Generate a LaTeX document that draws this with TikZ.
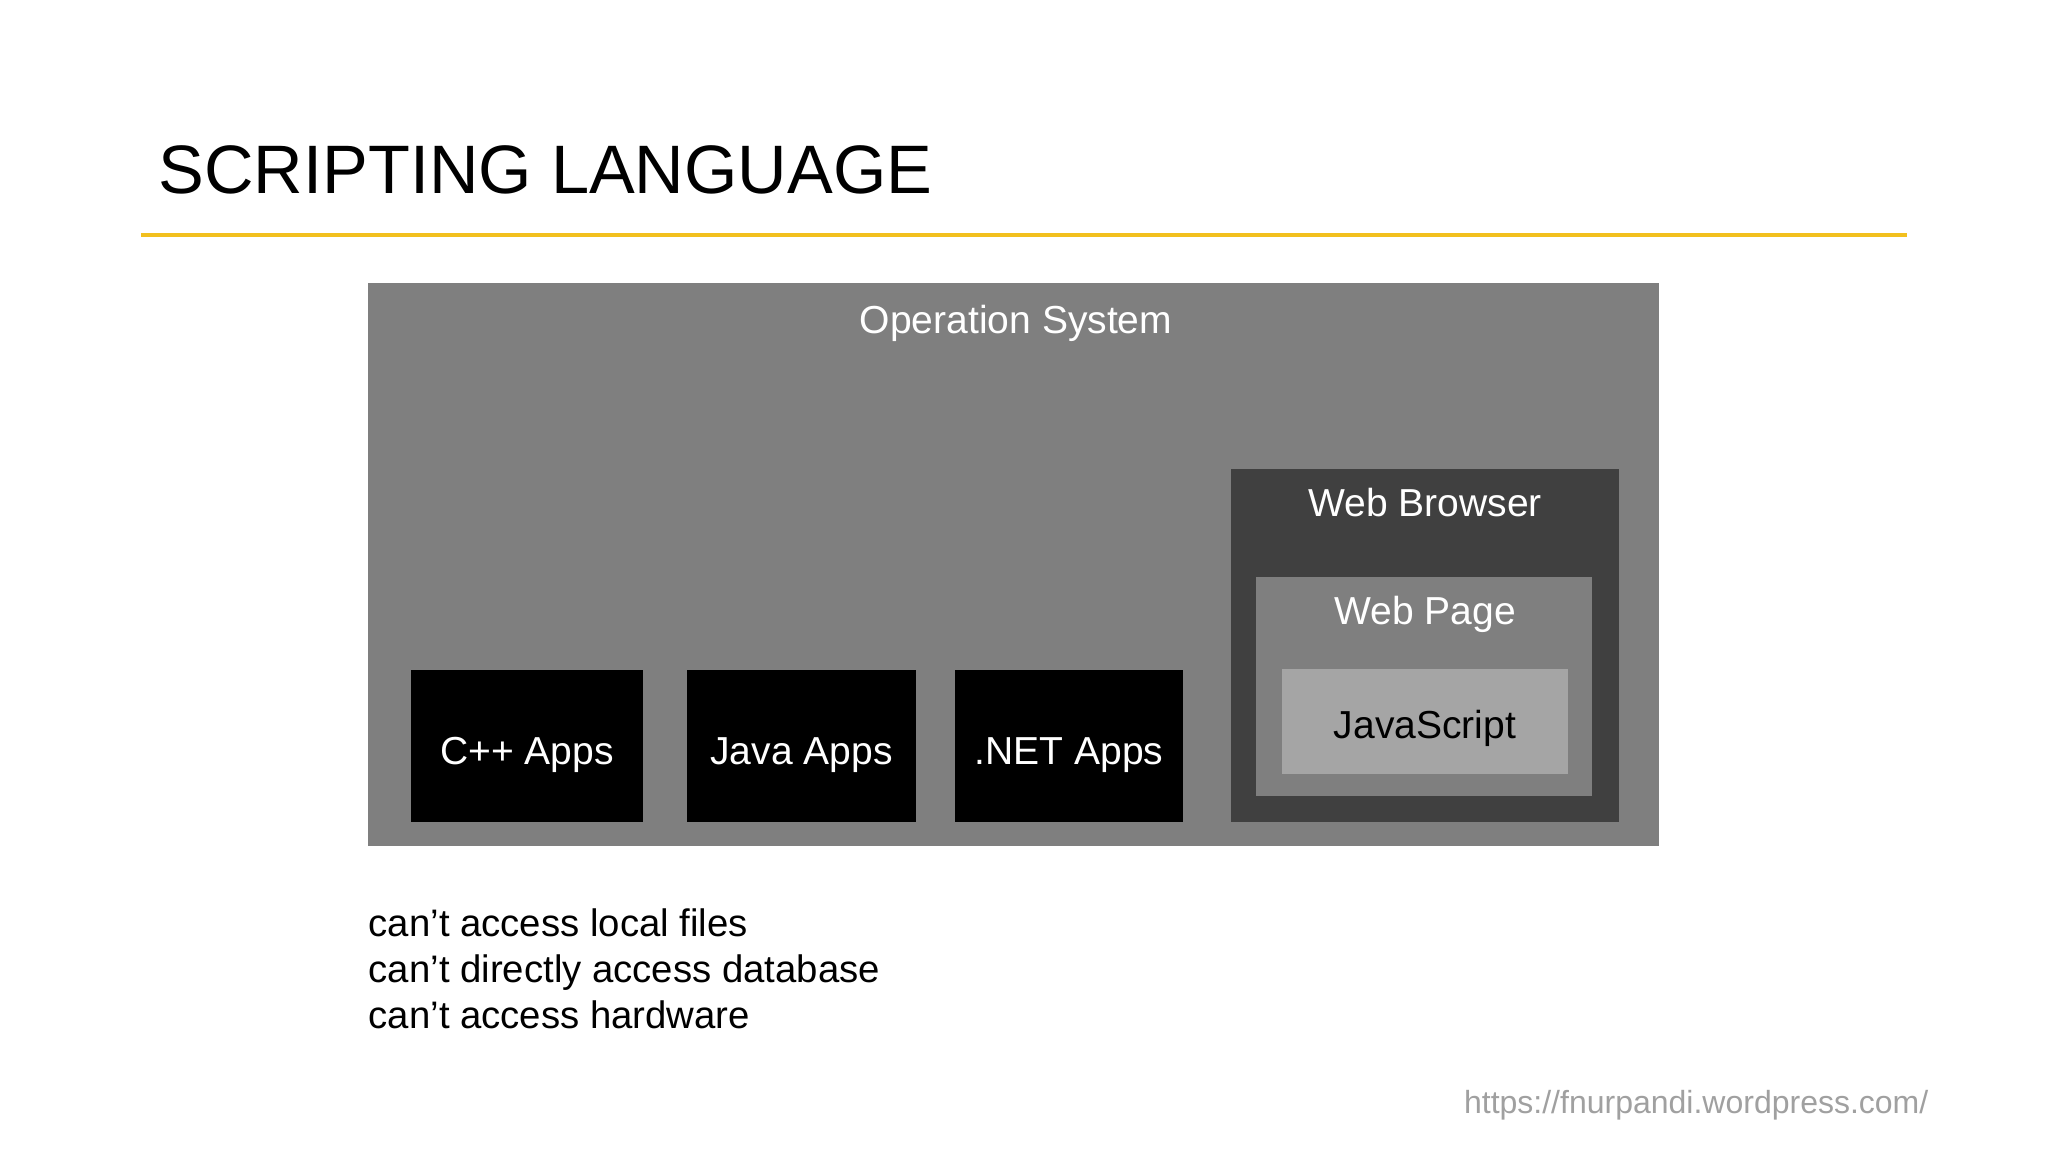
\documentclass[tikz,border=0pt]{standalone}
\usepackage{fontspec}
\setmainfont{Liberation Sans}
\definecolor{osgray}{HTML}{7F7F7F}
\definecolor{wbgray}{HTML}{404040}
\definecolor{jsgray}{HTML}{A5A5A5}
\definecolor{urlgray}{HTML}{A0A0A0}
\definecolor{rule}{HTML}{F2C01E}
\begin{document}
\begin{tikzpicture}[x=0.01cm,y=-0.01cm,
  panel/.style={draw=none, inner sep=0, outer sep=0, anchor=center},
  lbl/.style={font=\fontsize{11.1}{13}\selectfont, text=white, inner sep=0, anchor=base},
  note/.style={font=\fontsize{10.9}{13}\selectfont, text=black, inner sep=0, anchor=base west}]
  \fill[white] (0,0) rectangle (2048,1152);
  \useasboundingbox (0,0) rectangle (2048,1152);

  % title and rule
  \node[inner sep=0, anchor=west, font=\fontsize{19.5}{24}\selectfont] (title) at (158,170) {SCRIPTING LANGUAGE};
  \coordinate (ruleL) at (141,235);
  \coordinate (ruleR) at (1907,235);
  \draw[rule, line width=1.4pt] (ruleL) -- (ruleR);

  % operating system
  \node[panel, fill=osgray, minimum width=12.91cm, minimum height=5.63cm] (os) at (1013.5,564.5) {};
  \node[lbl] (oslbl) at (1016,334) {Operation System};

  % apps
  \node[panel, fill=black, minimum width=2.32cm, minimum height=1.52cm] (cpp) at (527,746) {};
  \node[panel, fill=black, minimum width=2.29cm, minimum height=1.52cm] (java) at (801.5,746) {};
  \node[panel, fill=black, minimum width=2.28cm, minimum height=1.52cm] (net) at (1069,746) {};
  \node[lbl] (cpplbl) at (527,764) {C++ Apps};
  \node[lbl] (javalbl) at (801.5,764) {Java Apps};
  \node[lbl] (netlbl) at (1069,764) {.NET Apps};

  % web browser
  \node[panel, fill=wbgray, minimum width=3.87cm, minimum height=3.53cm] (wb) at (1425,645.5) {};
  \node[lbl] (wblbl) at (1425,517) {Web Browser};
  \node[panel, fill=osgray, minimum width=3.35cm, minimum height=2.19cm] (wp) at (1424,686.5) {};
  \node[lbl] (wplbl) at (1425,624) {Web Page};
  \node[panel, fill=jsgray, minimum width=2.85cm, minimum height=1.04cm] (js) at (1425,721.5) {};
  \node[lbl, text=black] (jslbl) at (1425,738) {JavaScript};

  % notes
  \node[note] (n1) at (368,936) {can’t access local files};
  \node[note] (n2) at (368,982) {can’t directly access database};
  \node[note] (n3) at (368,1028) {can’t access hardware};

  % url
  \node[inner sep=0, anchor=base east, text=urlgray, font=\fontsize{9.1}{11}\selectfont] (url) at (1929,1113) {https://fnurpandi.wordpress.com/};
\end{tikzpicture}
\end{document}
